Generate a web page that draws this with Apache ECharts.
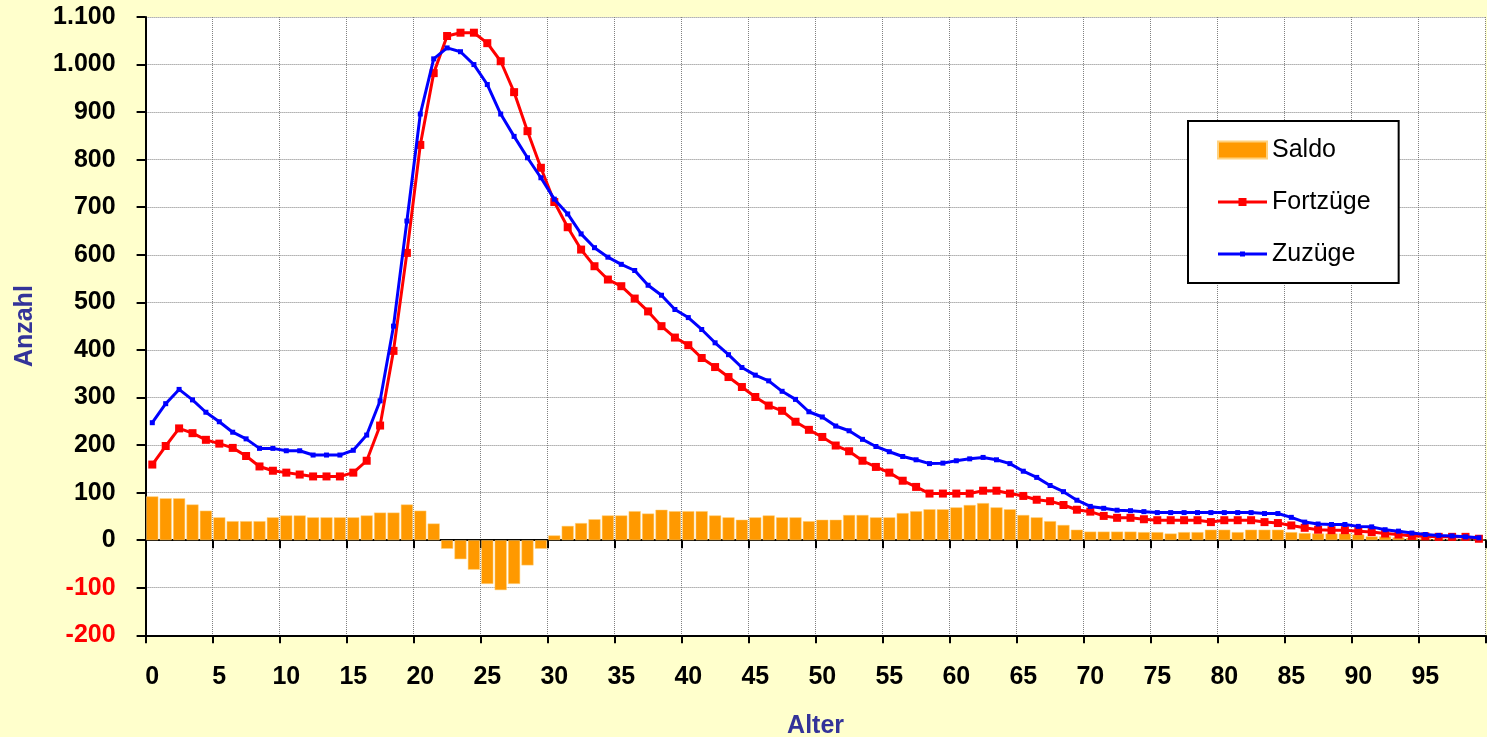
<!DOCTYPE html>
<html>
<head>
<meta charset="utf-8">
<script src="https://cdn.jsdelivr.net/npm/echarts@6/dist/echarts.min.js"></script>
<style>
  html, body { margin: 0; padding: 0; background: #FFFFCC; }
  #chart { width: 1487px; height: 737px; }
</style>
</head>
<body>
<div id="chart"></div>
<script>
// Age categories 0..99
const ages = [
  0,1,2,3,4,5,6,7,8,9,10,11,12,13,14,15,16,17,18,19,
  20,21,22,23,24,25,26,27,28,29,30,31,32,33,34,35,36,37,38,39,
  40,41,42,43,44,45,46,47,48,49,50,51,52,53,54,55,56,57,58,59,
  60,61,62,63,64,65,66,67,68,69,70,71,72,73,74,75,76,77,78,79,
  80,81,82,83,84,85,86,87,88,89,90,91,92,93,94,95,96,97,98,99
].map(String);

const saldo = [
  92,88,88,75,62,48,40,40,40,48,52,52,48,48,48,48,52,58,58,75,
  62,35,-18,-40,-62,-92,-105,-92,-53,-18,10,30,36,44,52,52,61,56,64,61,
  61,61,52,48,43,48,52,48,48,40,43,43,53,53,48,48,57,61,65,65,
  69,74,78,69,65,53,48,40,32,22,18,18,18,18,17,17,14,17,17,22,
  22,17,22,22,22,17,15,14,14,14,12,8,8,6,5,4,3,2,1,1
];

const fortzuege = [
  159,198,235,225,211,203,194,177,155,146,142,138,134,134,134,142,167,241,398,604,
  831,982,1060,1067,1067,1045,1007,942,860,783,711,658,611,576,548,534,508,481,450,426,
  410,383,364,343,322,301,283,272,249,232,217,199,187,167,154,142,125,112,98,98,
  98,98,104,104,98,93,85,82,74,64,60,51,47,47,44,42,42,42,42,38,
  42,42,42,38,36,31,26,22,21,21,19,17,14,12,9,8,7,7,7,3
];

const zuzuege = [
  247,287,317,295,269,249,227,213,193,193,188,188,179,179,179,189,221,293,450,671,
  896,1012,1035,1027,1000,958,896,849,804,762,717,686,644,615,595,580,567,536,515,485,
  468,443,415,390,363,347,335,313,296,270,259,240,230,212,197,186,176,169,161,162,
  167,171,174,169,161,145,132,115,102,84,71,67,63,62,60,58,58,58,58,58,
  58,58,58,56,56,48,38,34,33,33,29,28,22,19,15,12,10,9,7,5
];

const seriesNames = ['Saldo', 'Fortzüge', 'Zuzüge'];
const axisNames = { x: 'Alter', y: 'Anzahl' };

const FONT = '"Liberation Sans", Arial, sans-serif';

function fmtDE(v) {
  const s = String(Math.abs(v)).replace(/\B(?=(\d{3})+(?!\d))/g, '.');
  return (v < 0 ? '-' : '') + s;
}

// legend icons: line with marker (shape only)
const iconRedLine = 'path://M0,2.5 L49,2.5 L49,5.5 L0,5.5 Z M20.5,0 L28.5,0 L28.5,8 L20.5,8 Z';
const iconBlueLine = 'path://M0,1 L49,1 L49,4 L0,4 Z M22,0 L27,0 L27,5 L22,5 Z';

const chart = echarts.init(document.getElementById('chart'), null, { renderer: 'canvas' });

const option = {
  backgroundColor: '#FFFFCC',
  animation: false,
  grid: {
    left: 145.6, right: 1.4, top: 17, bottom: 101.7,
    outerBoundsMode: 'none', containLabel: false,
    show: true, backgroundColor: '#FFFFFF', borderWidth: 0
  },
  legend: {
    orient: 'vertical',
    left: 1188, top: 121,
    padding: [14, 28, 14, 29],
    itemGap: 22,
    itemWidth: 49, itemHeight: 17,
    backgroundColor: '#FFFFFF',
    borderColor: '#000000', borderWidth: 2, borderRadius: 0,
    data: [
      { name: seriesNames[0], icon: 'rect' },
      { name: seriesNames[1], icon: iconRedLine },
      { name: seriesNames[2], icon: iconBlueLine }
    ],
    textStyle: { fontFamily: FONT, fontSize: 25, color: '#000', lineHeight: 30 }
  },
  xAxis: [
    {
      type: 'category', data: ages, boundaryGap: true,
      axisLine: { onZero: true, lineStyle: { color: '#000', width: 2 } },
      axisTick: { show: true, interval: 4, length: 8, inside: false, lineStyle: { color: '#000', width: 2 } },
      axisLabel: { show: false },
      splitLine: { show: true, interval: 4, lineStyle: { color: '#808080', type: 'dotted', width: 1 } }
    },
    {
      type: 'category', data: ages, boundaryGap: true, position: 'bottom',
      name: axisNames.x, nameLocation: 'middle', nameGap: 78,
      nameTextStyle: { fontFamily: FONT, fontSize: 25, fontWeight: 'bold', color: '#333399' },
      axisLine: { onZero: false, lineStyle: { color: '#000', width: 2 } },
      axisTick: { show: true, interval: 4, length: 8, lineStyle: { color: '#000', width: 2 } },
      axisLabel: { interval: 4, margin: 29, fontFamily: FONT, fontSize: 25, fontWeight: 'bold', color: '#000' },
      splitLine: { show: false }
    }
  ],
  yAxis: {
    type: 'value', min: -200, max: 1100, interval: 100,
    name: axisNames.y, nameLocation: 'middle', nameRotate: 90, nameGap: 108,
    nameTextStyle: { fontFamily: FONT, fontSize: 25, fontWeight: 'bold', color: '#333399' },
    axisLine: { show: true, onZero: false, lineStyle: { color: '#000', width: 2 } },
    axisTick: { show: true, length: 9, lineStyle: { color: '#000', width: 2 } },
    axisLabel: {
      margin: 30, fontFamily: FONT, fontSize: 25, fontWeight: 'bold',
      formatter: fmtDE,
      color: function (v) { return Number(v) < 0 ? '#FF0000' : '#000000'; }
    },
    splitLine: { show: true, lineStyle: { color: '#808080', type: 'dotted', width: 1 } }
  },
  series: [
    {
      name: seriesNames[0], type: 'bar', xAxisIndex: 0, data: saldo,
      barWidth: '90%',
      itemStyle: { color: '#FF9900', borderColor: '#FFD27F', borderWidth: 0.5 },
      z: 2
    },
    {
      name: seriesNames[1], type: 'line', xAxisIndex: 0, data: fortzuege,
      symbol: 'rect', symbolSize: 8, showSymbol: true,
      lineStyle: { color: '#FF0000', width: 3 },
      itemStyle: { color: '#FF0000' },
      z: 3
    },
    {
      name: seriesNames[2], type: 'line', xAxisIndex: 0, data: zuzuege,
      symbol: 'rect', symbolSize: [5, 5], showSymbol: true,
      lineStyle: { color: '#0000FF', width: 3 },
      itemStyle: { color: '#0000FF' },
      z: 4
    }
  ]
};

chart.setOption(option);
</script>
</body>
</html>
